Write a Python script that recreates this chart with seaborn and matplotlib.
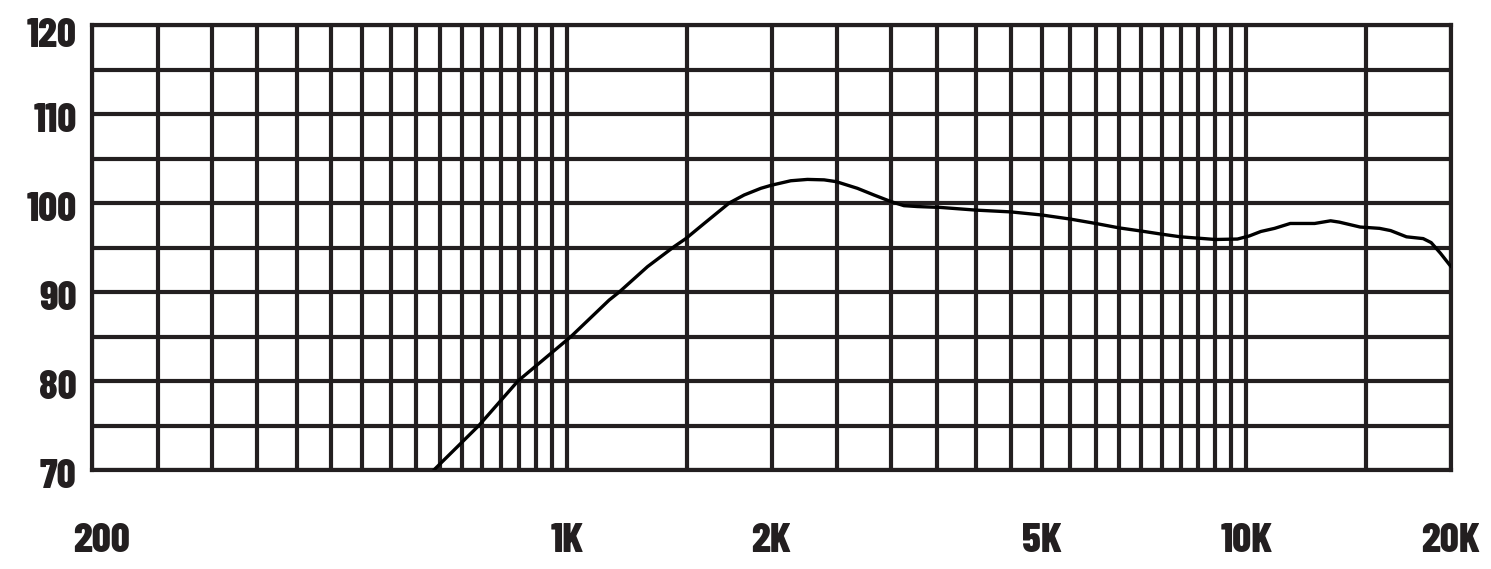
import matplotlib
matplotlib.use("Agg")
import matplotlib.pyplot as plt
import matplotlib.transforms as mtransforms
import seaborn as sns

# frequency response
freq_hz = [637, 742, 847, 1014, 1154, 1194, 1314, 1438, 1496, 1592, 1733, 1823,
           1929, 2000, 2135, 2259, 2390, 2490, 2676, 2830, 3000, 3133, 3280,
           3548, 4000, 4500, 5000, 5500, 6000, 6500, 7000, 7500, 8000, 9000,
           9700, 10100, 10500, 11000, 11600, 12600, 13300, 13700, 14700,
           15700, 16300, 17200, 18200, 18700, 19300, 20000]
spl_db = [70, 75, 80, 85, 89.1, 90, 92.85, 95.1, 96.0, 97.7, 100, 100.9,
          101.65, 102.0, 102.5, 102.65, 102.6, 102.4, 101.65, 100.9, 100.15,
          99.7, 99.6, 99.5, 99.2, 99.0, 98.65, 98.2, 97.7, 97.2, 96.85, 96.5,
          96.2, 95.9, 95.95, 96.3, 96.8, 97.15, 97.7, 97.7, 98.0, 97.85,
          97.3, 97.15, 96.9, 96.2, 96.0, 95.55, 94.35, 92.85]

x_ticks = [200, 1000, 2000, 5000, 10000, 20000]
x_ticklabels = ["200", "1K", "2K", "5K", "10K", "20K"]
x_grid = ([f for f in range(250, 1001, 50)]
          + [f for f in range(1500, 10001, 500)] + [15000])
y_ticks = [70, 80, 90, 100, 110, 120]
y_grid = [75, 85, 95, 105, 115]

ink = "#231f20"

sns.set_style("white")
plt.rcParams["font.family"] = ["Barlow Condensed", "Liberation Sans Narrow",
                               "Liberation Sans", "DejaVu Sans"]

fig = plt.figure(figsize=(14.91, 5.69), dpi=100)
ax = fig.add_axes([92 / 1491, 1 - 470 / 569, (1451 - 92) / 1491, (470 - 25) / 569])

sns.lineplot(x=freq_hz, y=spl_db, ax=ax, color="black", linewidth=2.4, zorder=3)

ax.set_xscale("log")
ax.set_xlim(200, 20000)
ax.set_ylim(70, 120)

ax.set_xticks(x_ticks)
ax.set_xticklabels(x_ticklabels)
ax.set_xticks(x_grid, minor=True)
ax.set_xticklabels([], minor=True)
ax.set_yticks(y_ticks)
ax.set_yticks(y_grid, minor=True)

ax.grid(which="both", color=ink, linewidth=3.0)
ax.set_axisbelow(True)
for s in ax.spines.values():
    s.set_visible(True)
    s.set_color(ink)
    s.set_linewidth(3.0)

ax.tick_params(which="both", length=0)
ax.tick_params(axis="x", pad=38, labelsize=30, labelcolor=ink)
ax.tick_params(axis="y", pad=11, labelsize=30, labelcolor=ink)
for lab in ax.get_xticklabels() + ax.get_yticklabels():
    lab.set_fontweight(800)

# small nudges: the labels sit a touch low, "200" a bit right of the edge
for tick, val in zip(ax.yaxis.get_major_ticks(), y_ticks):
    dy = 0.07 if val == 120 else 0.03
    lab = tick.label1
    lab.set_transform(lab.get_transform()
                      + mtransforms.ScaledTranslation(0, -dy, fig.dpi_scale_trans))
first = ax.xaxis.get_major_ticks()[0].label1
first.set_transform(first.get_transform()
                    + mtransforms.ScaledTranslation(0.10, 0, fig.dpi_scale_trans))

ax.set_xlabel("")
ax.set_ylabel("")

fig.savefig("out.png", dpi=100, facecolor="white")
